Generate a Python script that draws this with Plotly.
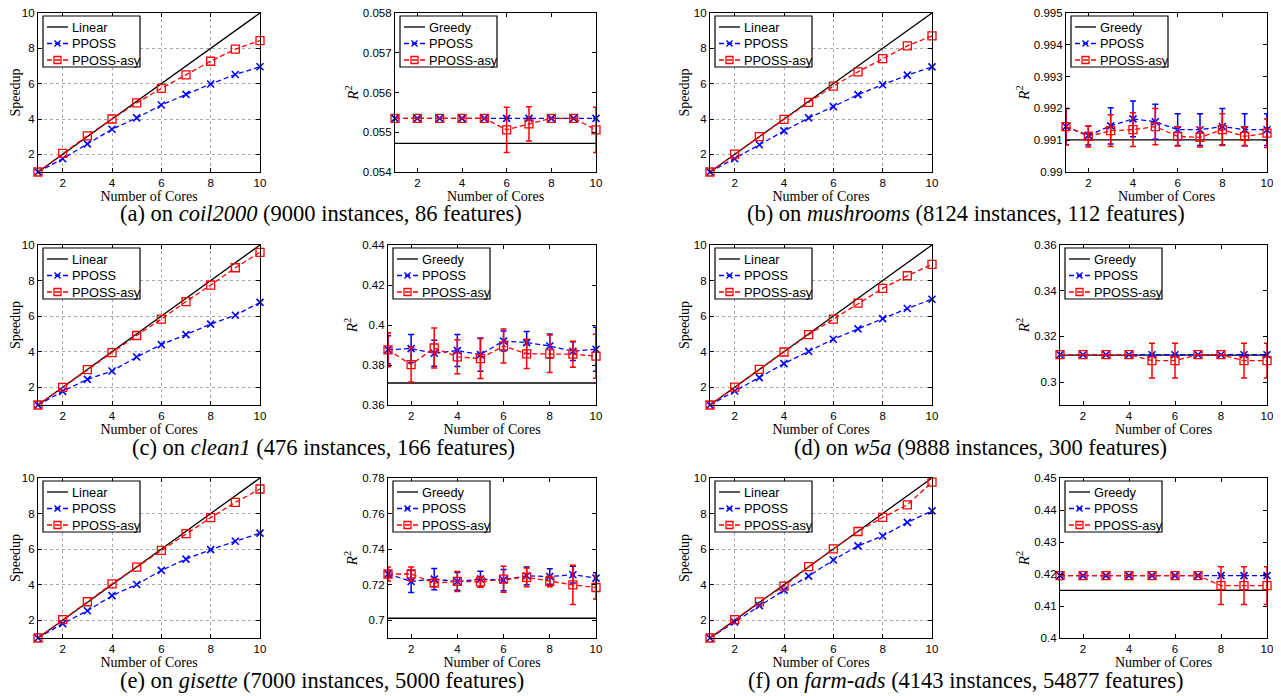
import plotly.graph_objects as go

# page body adds an 8px margin; figure is sized so it ends at the window edge
OFF = 8
FW, FH = 1281 - OFF, 696 - OFF

# ---------------- data ----------------
cores = [1, 2, 3, 4, 5, 6, 7, 8, 9, 10]
linear_speedup = [1, 2, 3, 4, 5, 6, 7, 8, 9, 10]

# speedup
coil_pposs = [1, 1.75, 2.59, 3.42, 4.06, 4.79, 5.39, 5.98, 6.52, 6.96]
coil_asy = [1, 2.05, 3.05, 4.00, 4.91, 5.73, 6.50, 7.27, 7.95, 8.44]
mush_pposs = [1, 1.75, 2.54, 3.33, 4.06, 4.70, 5.38, 5.94, 6.48, 6.95]
mush_asy = [1, 2.01, 3.00, 3.98, 4.94, 5.86, 6.67, 7.42, 8.14, 8.70]
clean_pposs = [1, 1.77, 2.44, 2.91, 3.70, 4.40, 4.96, 5.55, 6.05, 6.77]
clean_asy = [1, 1.99, 2.99, 3.95, 4.91, 5.83, 6.82, 7.74, 8.72, 9.59]
w5a_pposs = [1, 1.79, 2.54, 3.33, 4.02, 4.70, 5.28, 5.86, 6.43, 6.95]
w5a_asy = [1, 2.01, 3.00, 3.98, 4.96, 5.83, 6.73, 7.56, 8.27, 8.91]
gis_pposs = [1, 1.81, 2.53, 3.38, 4.01, 4.80, 5.44, 5.97, 6.44, 6.90]
gis_asy = [1, 2.03, 3.04, 4.05, 4.99, 5.93, 6.87, 7.77, 8.63, 9.38]
farm_pposs = [1, 1.90, 2.82, 3.69, 4.48, 5.39, 6.18, 6.74, 7.50, 8.15]
farm_asy = [1, 2.03, 3.03, 3.92, 5.01, 6.01, 6.99, 7.78, 8.49, 9.77]

# R^2
coil_greedy = 0.05472
coil_r2_pposs = [0.05535, 0.05535, 0.05535, 0.05535, 0.05535, 0.05535, 0.05535, 0.05535, 0.05535, 0.05535]
coil_r2_pposs_err = [0, 0, 0, 0, 0, 0, 0, 0, 0, 0]
coil_r2_asy = [0.05535, 0.05535, 0.05535, 0.05535, 0.05535, 0.05506, 0.05521, 0.05535, 0.05535, 0.05506]
coil_r2_asy_err = [0, 0, 0, 0, 0, 0.00057, 0.00043, 0, 0, 0.00057]

mush_greedy = 0.99101
mush_r2_pposs = [0.99143, 0.99115, 0.99145, 0.99167, 0.99158, 0.99133, 0.99133, 0.99143, 0.99133, 0.99133]
mush_r2_pposs_err = [0.00057, 0.0003, 0.00057, 0.00056, 0.00055, 0.0005, 0.0005, 0.00057, 0.0005, 0.0005]
mush_r2_asy = [0.99143, 0.99112, 0.99130, 0.99133, 0.99143, 0.99112, 0.99109, 0.99133, 0.99112, 0.99122]
mush_r2_asy_err = [0.00057, 0.00033, 0.0005, 0.00053, 0.00057, 0.0003, 0.0003, 0.0005, 0.0003, 0.00045]

clean_greedy = 0.3710
clean_r2_pposs = [0.3876, 0.3882, 0.3859, 0.3872, 0.3852, 0.3920, 0.3912, 0.3895, 0.3869, 0.3879]
clean_r2_pposs_err = [0.007, 0.007, 0.0065, 0.008, 0.0083, 0.005, 0.0055, 0.006, 0.0047, 0.011]
clean_r2_asy = [0.3876, 0.3802, 0.3885, 0.3841, 0.3832, 0.3895, 0.3856, 0.3856, 0.3854, 0.3844]
clean_r2_asy_err = [0.0085, 0.0087, 0.010, 0.0085, 0.010, 0.0085, 0.0073, 0.0094, 0.0065, 0.011]

w5a_greedy = 0.3118
w5a_r2_pposs = [0.3120, 0.3120, 0.3120, 0.3120, 0.3120, 0.3120, 0.3120, 0.3120, 0.3120, 0.3120]
w5a_r2_pposs_err = [0, 0, 0, 0, 0, 0, 0, 0, 0, 0]
w5a_r2_asy = [0.3120, 0.3120, 0.3120, 0.3120, 0.3094, 0.3094, 0.3120, 0.3120, 0.3094, 0.3094]
w5a_r2_asy_err = [0, 0, 0, 0, 0.0076, 0.0076, 0, 0, 0.0076, 0.0076]

gis_greedy = 0.7011
gis_r2_pposs = [0.7260, 0.7218, 0.7231, 0.7218, 0.7231, 0.7226, 0.7250, 0.7246, 0.7256, 0.7237]
gis_r2_pposs_err = [0.002, 0.0062, 0.006, 0.005, 0.0045, 0.006, 0.005, 0.0043, 0.0047, 0.003]
gis_r2_asy = [0.7260, 0.7260, 0.7209, 0.7218, 0.7216, 0.7231, 0.7241, 0.7218, 0.7199, 0.7184]
gis_r2_asy_err = [0.004, 0.004, 0.002, 0.0056, 0.003, 0.0073, 0.0053, 0.003, 0.011, 0.0064]

farm_greedy = 0.4149
farm_r2_pposs = [0.4195, 0.4195, 0.4195, 0.4195, 0.4195, 0.4195, 0.4195, 0.4195, 0.4195, 0.4195]
farm_r2_pposs_err = [0, 0, 0, 0, 0, 0, 0, 0, 0, 0]
farm_r2_asy = [0.4195, 0.4195, 0.4195, 0.4195, 0.4195, 0.4195, 0.4195, 0.41635, 0.41635, 0.41635]
farm_r2_asy_err = [0, 0, 0, 0, 0, 0, 0, 0.0059, 0.0059, 0.0059]

# tick labels
core_ticks = [2, 4, 6, 8, 10]
speed_ticks = [2, 4, 6, 8, 10]
coil_r2_ticks = [0.054, 0.055, 0.056, 0.057, 0.058]
coil_r2_labels = ["0.054", "0.055", "0.056", "0.057", "0.058"]
mush_r2_ticks = [0.990, 0.991, 0.992, 0.993, 0.994, 0.995]
mush_r2_labels = ["0.99", "0.991", "0.992", "0.993", "0.994", "0.995"]
clean_r2_ticks = [0.36, 0.38, 0.40, 0.42, 0.44]
clean_r2_labels = ["0.36", "0.38", "0.4", "0.42", "0.44"]
w5a_r2_ticks = [0.30, 0.32, 0.34, 0.36]
w5a_r2_labels = ["0.3", "0.32", "0.34", "0.36"]
gis_r2_ticks = [0.70, 0.72, 0.74, 0.76, 0.78]
gis_r2_labels = ["0.7", "0.72", "0.74", "0.76", "0.78"]
farm_r2_ticks = [0.40, 0.41, 0.42, 0.43, 0.44, 0.45]
farm_r2_labels = ["0.4", "0.41", "0.42", "0.43", "0.44", "0.45"]

speed_legend = ["Linear", "PPOSS", "PPOSS-asy"]
r2_legend = ["Greedy", "PPOSS", "PPOSS-asy"]

captions = [
    "(a) on <i>coil2000</i> (9000 instances, 86 features)",
    "(b) on <i>mushrooms</i> (8124 instances, 112 features)",
    "(c) on <i>clean1</i> (476 instances, 166 features)",
    "(d) on <i>w5a</i> (9888 instances, 300 features)",
    "(e) on <i>gisette</i> (7000 instances, 5000 features)",
    "(f) on <i>farm-ads</i> (4143 instances, 54877 features)",
]

# ---------------- layout geometry (window pixels) ----------------
rows_px = [(13, 172), (245, 405), (478, 638)]
speed_cols = [(38, 260), (710, 932)]
r2_cols = [[(395, 596), (1066, 1267)], [(388, 596), (1060, 1267)], [(388, 596), (1060, 1267)]]
caption_pos = [(321, 214), (966, 214), (323, 447), (980, 447), (322, 680), (966, 680)]

panels = [
    (0, 0, "speed", coil_pposs, coil_asy),
    (0, 0, "r2", coil_greedy, coil_r2_pposs, coil_r2_pposs_err, coil_r2_asy, coil_r2_asy_err, [0.054, 0.058], coil_r2_ticks, coil_r2_labels),
    (0, 1, "speed", mush_pposs, mush_asy),
    (0, 1, "r2", mush_greedy, mush_r2_pposs, mush_r2_pposs_err, mush_r2_asy, mush_r2_asy_err, [0.990, 0.995], mush_r2_ticks, mush_r2_labels),
    (1, 0, "speed", clean_pposs, clean_asy),
    (1, 0, "r2", clean_greedy, clean_r2_pposs, clean_r2_pposs_err, clean_r2_asy, clean_r2_asy_err, [0.36, 0.44], clean_r2_ticks, clean_r2_labels),
    (1, 1, "speed", w5a_pposs, w5a_asy),
    (1, 1, "r2", w5a_greedy, w5a_r2_pposs, w5a_r2_pposs_err, w5a_r2_asy, w5a_r2_asy_err, [0.29, 0.36], w5a_r2_ticks, w5a_r2_labels),
    (2, 0, "speed", gis_pposs, gis_asy),
    (2, 0, "r2", gis_greedy, gis_r2_pposs, gis_r2_pposs_err, gis_r2_asy, gis_r2_asy_err, [0.69, 0.78], gis_r2_ticks, gis_r2_labels),
    (2, 1, "speed", farm_pposs, farm_asy),
    (2, 1, "r2", farm_greedy, farm_r2_pposs, farm_r2_pposs_err, farm_r2_asy, farm_r2_asy_err, [0.40, 0.45], farm_r2_ticks, farm_r2_labels),
]

BLUE = "#0000ff"
RED = "#ff0000"
SANS = "Liberation Sans, Arial, sans-serif"
SERIF = "Liberation Serif, Times New Roman, serif"
DASH = "5px,3px"

def px(x):
    return (x - OFF) / FW

def py(y):
    return 1 - (y - OFF) / FH

fig = go.Figure()
layout = dict(
    template="none",
    width=FW, height=FH, margin=dict(l=0, r=0, t=0, b=0, pad=0),
    paper_bgcolor="white", plot_bgcolor="white", showlegend=False,
    font=dict(family=SANS, size=11.5, color="black"),
)

def axis_common():
    return dict(
        automargin=False, ticklabeloverflow="allow",
        showline=True, linecolor="black", linewidth=1.2, mirror="ticks",
        ticks="inside", ticklen=4, tickwidth=1, tickcolor="black",
        zeroline=False, tickfont=dict(family=SANS, size=11.5, color="black"),
    )

shapes = []
annotations = []

def add_legend(left, top, names):
    bx, by, bw, bh = left + 5, top + 3, 97, 51
    shapes.append(dict(type="rect", xref="paper", yref="paper", layer="above",
                       x0=px(bx), x1=px(bx + bw), y0=py(by + bh), y1=py(by),
                       line=dict(color="black", width=1.2), fillcolor="white"))
    offs = [11, 27.5, 44]
    styles = [("black", "solid", None), (BLUE, DASH, "x"), (RED, DASH, "sq")]
    for name, off, (col, dash, mk) in zip(names, offs, styles):
        cy = by + off
        shapes.append(dict(type="line", xref="paper", yref="paper", layer="above",
                           x0=px(bx + 4), x1=px(bx + 25), y0=py(cy), y1=py(cy),
                           line=dict(color=col, width=1.3, dash=dash)))
        cx = bx + 14.5
        if mk == "x":
            for s in (1, -1):
                shapes.append(dict(type="line", xref="paper", yref="paper", layer="above",
                                   x0=px(cx - 3), x1=px(cx + 3), y0=py(cy - 3 * s), y1=py(cy + 3 * s),
                                   line=dict(color=col, width=1.5)))
        elif mk == "sq":
            shapes.append(dict(type="rect", xref="paper", yref="paper", layer="above",
                               x0=px(cx - 3.5), x1=px(cx + 3.5), y0=py(cy + 3.5), y1=py(cy - 3.5),
                               line=dict(color=col, width=1.3)))
        annotations.append(dict(text=name, x=px(bx + 27), y=py(cy), xref="paper", yref="paper",
                                xanchor="left", yanchor="middle", showarrow=False,
                                font=dict(family=SANS, size=12.8, color="black")))

for i, p in enumerate(panels):
    n = i + 1
    xa = "x" if n == 1 else f"x{n}"
    ya = "y" if n == 1 else f"y{n}"
    row, side, kind = p[0], p[1], p[2]
    top, bot = rows_px[row]
    if kind == "speed":
        left, right = speed_cols[side]
    else:
        left, right = r2_cols[row][side]

    xaxis = axis_common()
    yaxis = axis_common()
    xaxis.update(domain=[px(left), px(right)], anchor=ya, range=[1, 10], tickvals=core_ticks,
                 title=dict(text="Number of Cores", font=dict(family=SERIF, size=14, color="black"), standoff=0))
    yaxis.update(domain=[py(bot), py(top)], anchor=xa)

    if kind == "speed":
        pposs, asy = p[3], p[4]
        xaxis.update(showgrid=True, gridcolor="#a8a8a8", griddash="dot", gridwidth=1)
        yaxis.update(range=[1, 10], tickvals=speed_ticks, showgrid=True, gridcolor="#a8a8a8",
                     griddash="dot", gridwidth=1,
                     title=dict(text="Speedup", font=dict(family=SERIF, size=14, color="black"), standoff=0))
        fig.add_trace(go.Scatter(x=cores, y=linear_speedup, mode="lines", name="Linear",
                                 line=dict(color="black", width=1.3), xaxis=xa, yaxis=ya))
        fig.add_trace(go.Scatter(x=cores, y=pposs, mode="lines+markers", name="PPOSS",
                                 line=dict(color=BLUE, width=1.3, dash=DASH),
                                 marker=dict(symbol="x-thin", size=7, line=dict(width=1.6, color=BLUE)),
                                 cliponaxis=False, xaxis=xa, yaxis=ya))
        fig.add_trace(go.Scatter(x=cores, y=asy, mode="lines+markers", name="PPOSS-asy",
                                 line=dict(color=RED, width=1.3, dash=DASH),
                                 marker=dict(symbol="square-open", size=8, line=dict(width=1.3, color=RED)),
                                 cliponaxis=False, xaxis=xa, yaxis=ya))
        add_legend(left, top, speed_legend)
    else:
        greedy, pp, pp_err, asy, asy_err, yr, tv, tt = p[3:]
        xaxis.update(showgrid=False)
        yaxis.update(range=yr, tickvals=tv, ticktext=tt, showgrid=False,
                     title=dict(text="<i>R</i><sup>2</sup>", font=dict(family=SERIF, size=15, color="black"), standoff=0))
        fig.add_trace(go.Scatter(x=[cores[0], cores[-1]], y=[greedy, greedy], mode="lines", name="Greedy",
                                 line=dict(color="black", width=1.3), xaxis=xa, yaxis=ya))
        fig.add_trace(go.Scatter(x=cores, y=pp, mode="lines+markers", name="PPOSS",
                                 line=dict(color=BLUE, width=1.3, dash=DASH),
                                 marker=dict(symbol="x-thin", size=7, line=dict(width=1.6, color=BLUE)),
                                 error_y=dict(type="data", array=pp_err, visible=True, color=BLUE, thickness=1.5, width=3),
                                 cliponaxis=False, xaxis=xa, yaxis=ya))
        fig.add_trace(go.Scatter(x=cores, y=asy, mode="lines+markers", name="PPOSS-asy",
                                 line=dict(color=RED, width=1.3, dash=DASH),
                                 marker=dict(symbol="square-open", size=8, line=dict(width=1.3, color=RED)),
                                 error_y=dict(type="data", array=asy_err, visible=True, color=RED, thickness=1.5, width=3),
                                 cliponaxis=False, xaxis=xa, yaxis=ya))
        add_legend(left, top, r2_legend)

    layout["xaxis" if n == 1 else f"xaxis{n}"] = xaxis
    layout["yaxis" if n == 1 else f"yaxis{n}"] = yaxis

for text, (cx, cy) in zip(captions, caption_pos):
    annotations.append(dict(text=text, x=px(cx), y=py(cy), xref="paper", yref="paper",
                            xanchor="center", yanchor="middle", showarrow=False,
                            font=dict(family=SERIF, size=22.5, color="black")))

layout["shapes"] = shapes
layout["annotations"] = annotations

fig.update_layout(**layout)
fig.write_html("out.html")
